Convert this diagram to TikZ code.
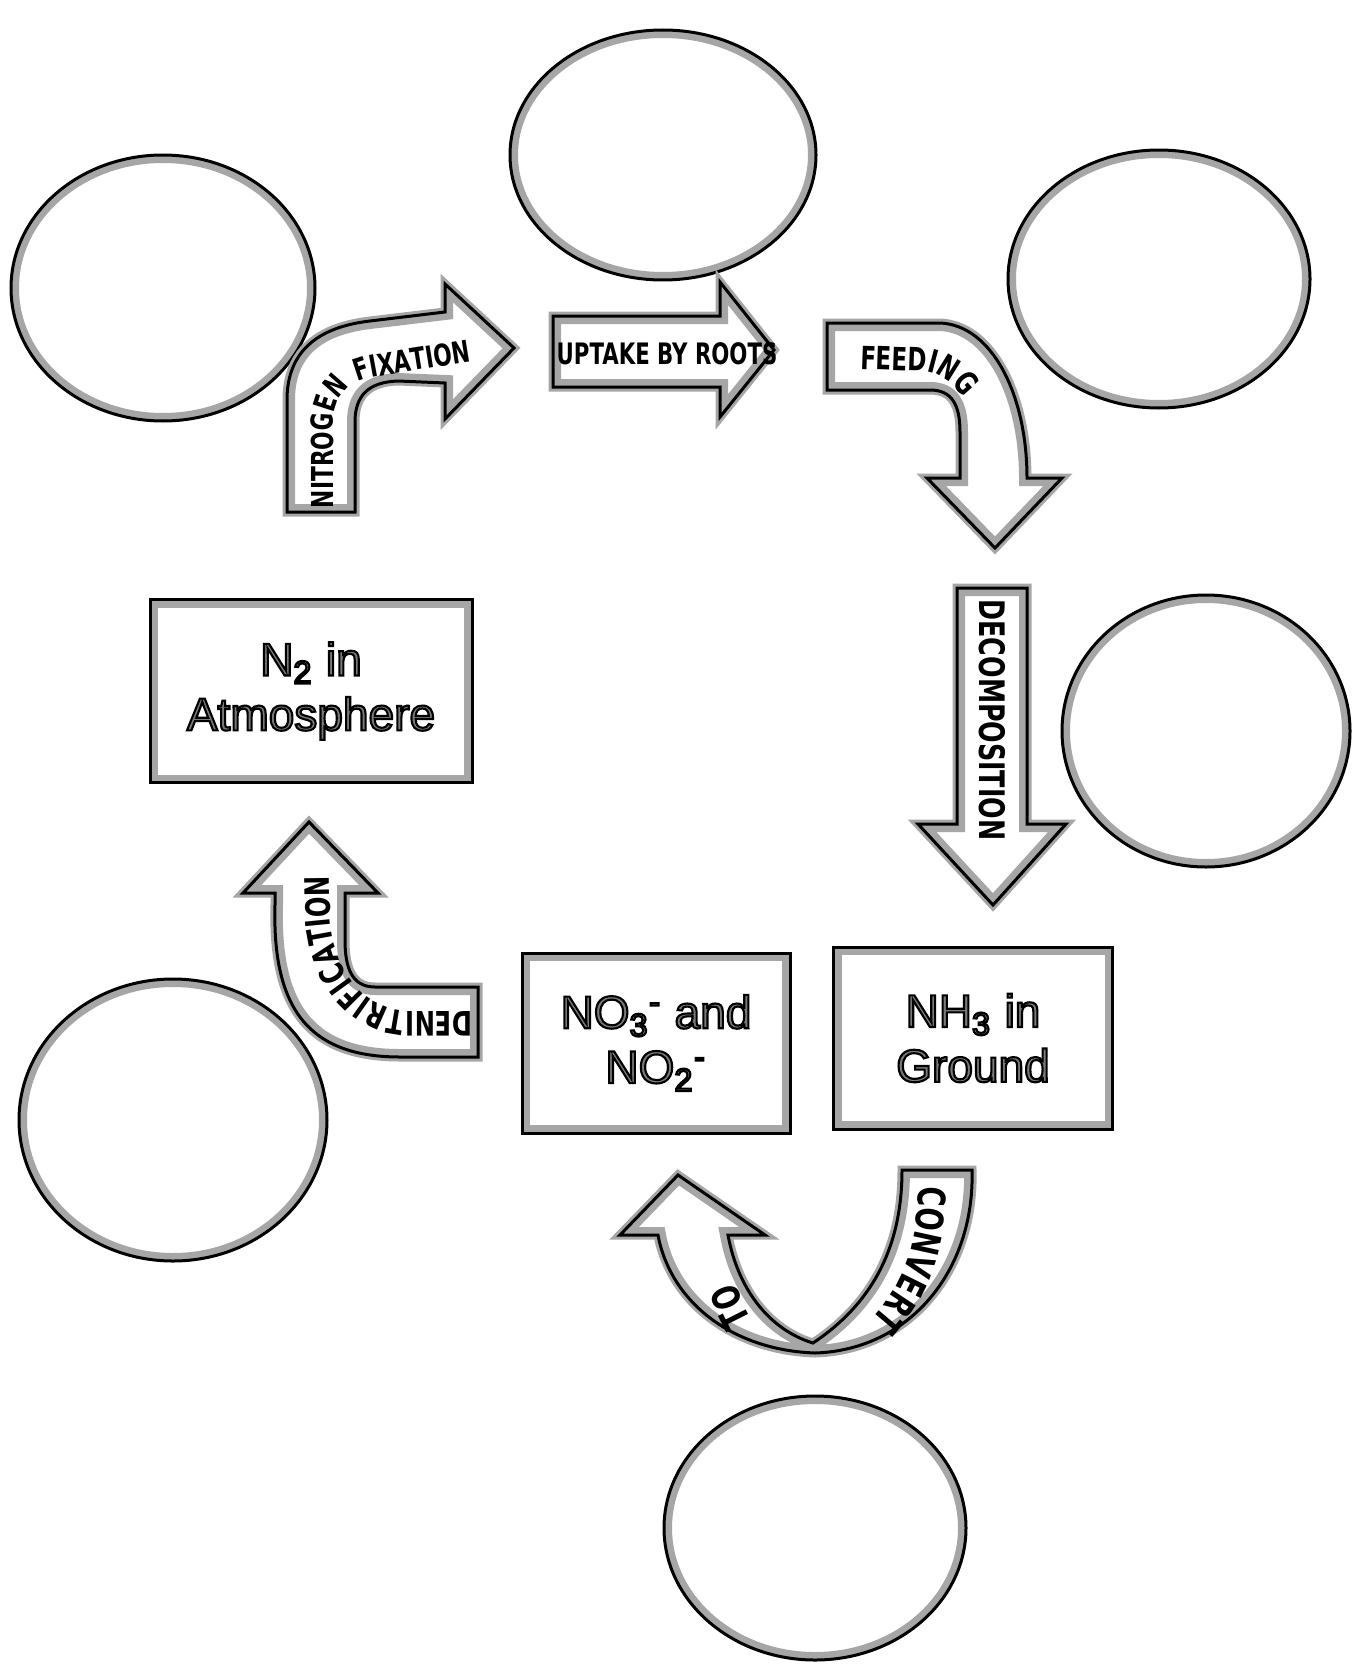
\documentclass[tikz,border=0pt]{standalone}
\usepackage{fontspec}
\setmainfont{Liberation Sans}
\newfontfamily\hand{DejaVu Sans}[FakeStretch=0.72]
\usetikzlibrary{shapes.geometric,decorations.text,calc}
\newcommand\outl[1]{{\color{black!52}\special{pdf:literal direct 0 G 0.6 w 2 Tr}#1\special{pdf:literal direct 0 Tr}}}
\newcommand\handA{\hand\bfseries\fontsize{8.6}{10}\selectfont}
\newcommand\handB{\hand\bfseries\fontsize{9.1}{11}\selectfont}
\newcommand\handC{\hand\bfseries\fontsize{9.6}{11}\selectfont}
\newcommand\handD{\hand\bfseries\fontsize{10.8}{12}\selectfont}
\newcommand\hshape[1]{%
  \draw[halo out] #1;
  \fill[white] #1;
  \begin{scope}\clip #1; \draw[halo] #1; \end{scope}
  \draw[edge] #1;}
\begin{document}
\begin{tikzpicture}[x=0.1mm,y=-0.1mm,
  edge/.style={draw=black,line width=0.3mm,line join=miter},
  halo/.style={draw=black!35,line width=1.6mm},
  halo out/.style={draw=black!35,line width=0.9mm},
  circ/.style={ellipse,edge,fill=white,inner sep=0pt,
    path picture={\draw[halo] let \p1=(path picture bounding box.north east),\p2=(path picture bounding box.center) in (\p2) ellipse [x radius=\x1-\x2,y radius=\y1-\y2];}},
  box/.style={rectangle,edge,fill=white,inner sep=0pt,align=center,
    font=\fontsize{13.1}{15.6}\selectfont,
    path picture={\draw[halo] (path picture bounding box.south west) rectangle (path picture bounding box.north east);}},
  lbl/.style={font=\hand\bfseries\fontsize{8.4}{10}\selectfont,inner sep=0pt},
  lbld/.style={font=\hand\bfseries\fontsize{10}{12}\selectfont,inner sep=0pt},
  txt/.style={decorate,decoration={text along path,text={#1}}}
]
\fill[white] (0,0) rectangle (1353,1673);
\useasboundingbox (0,0) rectangle (1353,1673);

% blank circles
\node[circ,minimum width=30.4mm,minimum height=26.6mm] (c1) at (163,288) {};
\node[circ,minimum width=30.6mm,minimum height=25mm] (c2) at (663,155) {};
\node[circ,minimum width=30.2mm,minimum height=25.8mm] (c3) at (1159,279) {};
\node[circ,minimum width=28.8mm,minimum height=27.2mm] (c4) at (1206,731) {};
\node[circ,minimum width=30.8mm,minimum height=28.2mm] (c5) at (173,1120) {};
\node[circ,minimum width=30.2mm,minimum height=26.4mm] (c6) at (815,1528) {};

% boxes
\node[box,minimum width=32.2mm,minimum height=18.3mm] (atm) at (311,691)
  {\outl{N\textsubscript{2} in}\\\outl{Atmosphere}};
\node[box,minimum width=26.8mm,minimum height=18mm] (nox) at (656,1043)
  {\outl{NO\textsubscript{3}\textsuperscript{-} and}\\\outl{NO\textsubscript{2}\textsuperscript{-}}};
\node[box,minimum width=27.9mm,minimum height=18.2mm] (nh3) at (973,1038)
  {\outl{NH\textsubscript{3} in}\\\outl{Ground}};

% nitrogen fixation arrow
\hshape{(287,512) -- (287,400) .. controls (287,358) and (310,328) .. (370,321) -- (445,312) -- (445,284) -- (514,348) -- (445,419) -- (445,383) -- (398,381) .. controls (368,382) and (355,396) .. (355,422) -- (355,512) -- cycle}
\path[txt={|\handA|NITROGEN FIXATION}] (333,508) -- (333,428) .. controls (333,392) and (352,380) .. (380,376) -- (505,356);

% uptake arrow
\hshape{(553,316) -- (720,316) -- (720,282) -- (774,350) -- (720,417) -- (720,387) -- (553,387) -- cycle}
\node[lbl,anchor=base] (tup) at (667,364) {UPTAKE BY ROOTS};

% feeding arrow
\hshape{(827,323) -- (940,323) .. controls (992,325) and (1027,395) .. (1027,478) -- (1062,478) -- (995,548) -- (927,478) -- (960,478) -- (960,432) .. controls (960,405) and (952,390) .. (930,390) -- (827,390) -- cycle}
\path[txt={|\handB|FEEDING}] (860,369) -- (922,371) .. controls (945,373) and (962,389) .. (982,430);

% decomposition arrow
\hshape{(957,588) -- (1027,588) -- (1027,824) -- (1066,824) -- (993,905) -- (918,824) -- (957,824) -- cycle}
\node[lbld,rotate=-90] (tdc) at (992,720) {DECOMPOSITION};

% denitrification arrow
\hshape{(478,987) -- (375,987) .. controls (352,987) and (345,968) .. (345,940) -- (345,893) -- (378,893) -- (309,822) -- (243,893) -- (275,893) -- (275,905) .. controls (272,1010) and (310,1057) .. (400,1057) -- (478,1057) -- cycle}
\path[txt={|\handC|DENITRIFICATION}] (472,1011) -- (405,1011) .. controls (362,1008) and (333,970) .. (330,915) -- (329,845);

% convert-to arrow
\hshape{(902,1170) -- (972,1170) .. controls (975,1270) and (910,1350) .. (815,1353) .. controls (730,1350) and (670,1300) .. (658,1235) -- (620,1235) -- (678,1175) -- (765,1235) -- (728,1235) .. controls (738,1290) and (770,1330) .. (813,1343) .. controls (870,1305) and (902,1250) .. (902,1170) -- cycle}
\path[txt={|\handD|CONVERT}] (918,1186) .. controls (918,1262) and (893,1305) .. (845,1344);
\path[txt={|\handD|TO}] (752,1320) .. controls (740,1298) and (731,1275) .. (725,1245);
\end{tikzpicture}
\end{document}
